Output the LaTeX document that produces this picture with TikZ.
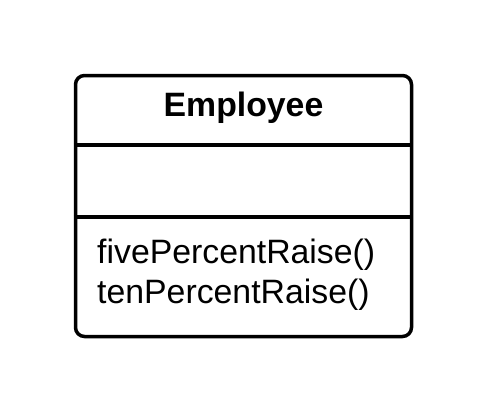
\documentclass[tikz,border=0pt]{standalone}
\usepackage{fontspec}
\setmainfont{Liberation Sans}
\begin{document}
\begin{tikzpicture}[x=1pt,y=-1pt,
  classbox/.style={draw=black, line width=3.5pt, rounded corners=9pt,
    minimum width=336pt, minimum height=261pt, inner sep=0pt},
  divider/.style={draw=black, line width=3.5pt},
  umltext/.style={font=\fontsize{33.8}{40}\selectfont, inner sep=0pt}]
\useasboundingbox (0,0) rectangle (488,413);
\node[classbox] (cls) at (243.5,206) {};
\coordinate (d1) at (0,145);
\coordinate (d2) at (0,217);
\draw[divider] (cls.west |- d1) -- (cls.east |- d1);
\draw[divider] (cls.west |- d2) -- (cls.east |- d2);
\node[umltext, font=\fontsize{33.8}{40}\selectfont\bfseries, anchor=base] (name) at (243.5,116) {Employee};
\node[umltext, anchor=base west] (m1) at (97,263) {fivePercentRaise()};
\node[umltext, anchor=base west] (m2) at (97,303) {tenPercentRaise()};
\end{tikzpicture}
\end{document}
